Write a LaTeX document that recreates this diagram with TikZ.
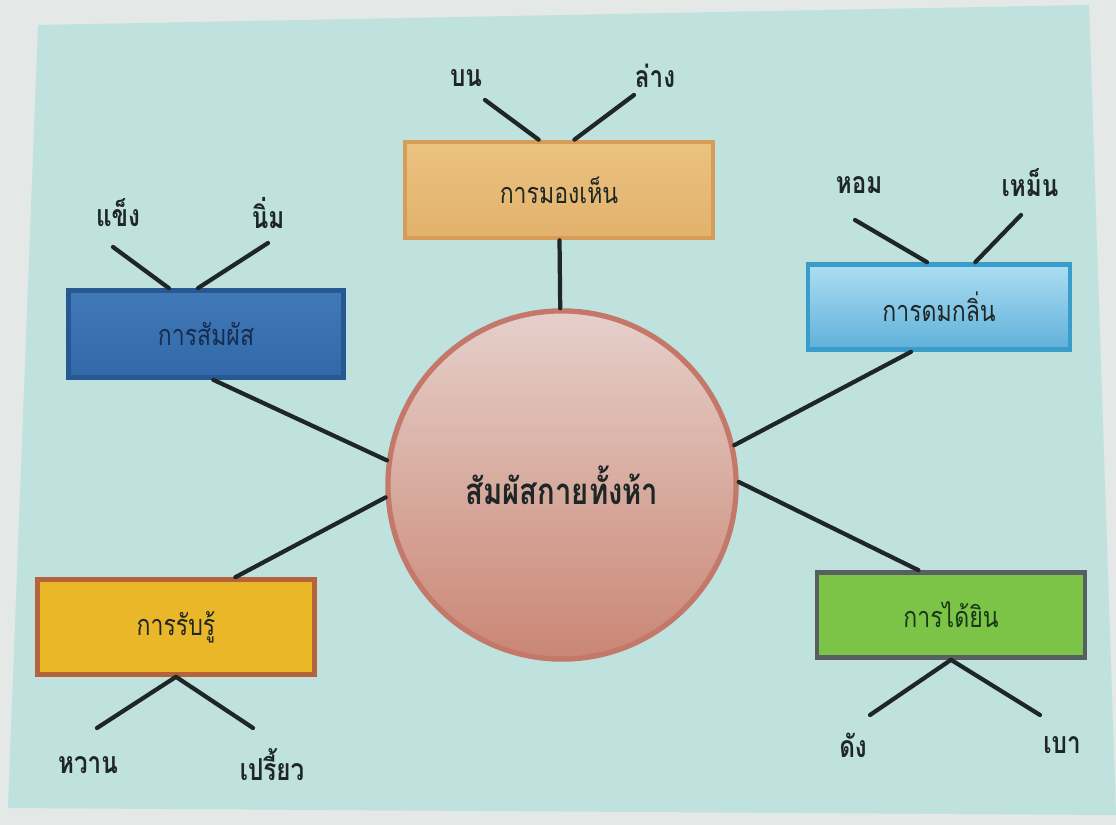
\documentclass[tikz,border=0pt]{standalone}
\usepackage{fontspec}
\newfontfamily\thaifont[Script=Thai,FakeStretch=0.8]{Loma}
\definecolor{paper}{HTML}{E4E8E7}
\definecolor{panel}{HTML}{BFE2DF}
\definecolor{ink}{HTML}{1E2626}
\tikzset{
  box/.style={draw,line width=1.3pt,minimum width=2.75cm,minimum height=0.87cm,
    font=\thaifont\fontsize{8.2}{10}\selectfont,text=ink},
  word/.style={font=\thaifont\bfseries\fontsize{8.6}{10}\selectfont,text=ink},
  stem/.style={line width=1.2pt,draw=ink,line cap=round},
}
\begin{document}
\begin{tikzpicture}[x=0.01cm,y=-0.01cm]
\useasboundingbox (0,0) rectangle (1116,825);
\fill[paper] (0,0) rectangle (1116,825);
\fill[panel] (38,25)--(1089,5)--(1116,815)--(8,808)--cycle;
% centre
\node[circle,draw={rgb,255:red,196;green,120;blue,106},line width=1.5pt,
  top color={rgb,255:red,230;green,208;blue,203},bottom color={rgb,255:red,202;green,134;blue,116},
  minimum size=3.48cm,font=\thaifont\bfseries\fontsize{10.4}{12}\selectfont,text=ink] (core) at (562,485) {สัมผัสกายทั้งห้า};
% boxes
\node[box,minimum width=3.08cm,minimum height=0.96cm,draw={rgb,255:red,214;green,156;blue,88},
  top color={rgb,255:red,235;green,194;blue,128},bottom color={rgb,255:red,226;green,178;blue,108}] (seeBox) at (559,190) {การมองเห็น};
\node[box,draw={rgb,255:red,40;green,88;blue,146},
  top color={rgb,255:red,64;green,121;blue,184},bottom color={rgb,255:red,50;green,104;blue,168},text={rgb,255:red,22;green,44;blue,78}] (touchBox) at (206,334) {การสัมผัส};
\node[box,minimum width=2.62cm,minimum height=0.85cm,draw={rgb,255:red,58;green,156;blue,200},
  top color={rgb,255:red,172;green,222;blue,242},bottom color={rgb,255:red,96;green,176;blue,218}] (smellBox) at (939,307) {การดมกลิ่น};
\node[box,minimum width=2.77cm,minimum height=0.95cm,draw={rgb,255:red,182;green,98;blue,58},
  fill={rgb,255:red,233;green,183;blue,40}] (senseBox) at (176,627) {การรับรู้};
\node[box,minimum width=2.68cm,minimum height=0.85cm,draw={rgb,255:red,88;green,95;blue,96},
  fill={rgb,255:red,123;green,196;blue,71},text={rgb,255:red,24;green,56;blue,24}] (hearBox) at (951,615) {การได้ยิน};
% spokes
\draw[stem] (seeBox) -- (core);
\draw[stem] (touchBox.279) -- (core.172);
\draw[stem] (smellBox.238) -- (core.13);
\draw[stem] (senseBox.40) -- (core.184);
\draw[stem] (hearBox.126) -- (core.1);
% leaves
\node[word] (bon) at (466,78) {บน};
\node[word] (lang) at (655,76) {ล่าง};
\coordinate (bonEnd) at (485,100);
\coordinate (langEnd) at (634,95);
\draw[stem] (bonEnd) -- (seeBox.112);
\draw[stem] (langEnd) -- (seeBox.73);
\node[word] (khaeng) at (118,213) {แข็ง};
\node[word] (nim) at (268,213) {นิ่ม};
\coordinate (khaengEnd) at (113,247);
\coordinate (nimEnd) at (268,243);
\draw[stem] (khaengEnd) -- (touchBox.129);
\draw[stem] (nimEnd) -- (touchBox.100);
\node[word] (hom) at (859,185) {หอม};
\node[word] (men) at (1030,183) {เหม็น};
\coordinate (homEnd) at (855,220);
\coordinate (menEnd) at (1021,215);
\draw[stem] (homEnd) -- (smellBox.105);
\draw[stem] (menEnd) -- (smellBox.51);
\node[word] (wan) at (88,765) {หวาน};
\node[word] (priao) at (272,765) {เปรี้ยว};
\coordinate (wanEnd) at (97,728);
\coordinate (priaoEnd) at (253,728);
\draw[stem] (senseBox.south) -- (wanEnd);
\draw[stem] (senseBox.south) -- (priaoEnd);
\node[word] (dang) at (853,745) {ดัง};
\node[word] (bao) at (1062,745) {เบา};
\coordinate (dangEnd) at (870,715);
\coordinate (baoEnd) at (1040,715);
\draw[stem] (hearBox.south) -- (dangEnd);
\draw[stem] (hearBox.south) -- (baoEnd);
\end{tikzpicture}
\end{document}
